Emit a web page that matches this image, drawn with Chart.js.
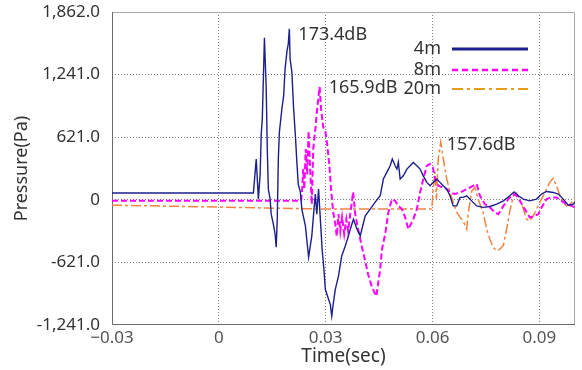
<!DOCTYPE html>
<html>
<head>
<meta charset="utf-8">
<script src="https://cdn.jsdelivr.net/npm/chart.js@4.4.1/dist/chart.umd.min.js"></script>
<style>
  html, body { margin: 0; padding: 0; background: #fff; }
  #wrap { width: 582px; height: 370px; }
</style>
</head>
<body>
<div id="wrap"><canvas id="chart" width="582" height="370"></canvas></div>
<script>
// pressure traces: [time (s), pressure (Pa)]
const trace4m = [
  [-0.0300, 67], [0.0097, 67], [0.0105, 404], [0.0111, 7], [0.0116, 255], [0.0119, 652],
  [0.0122, 801], [0.0128, 1606], [0.0133, 1099], [0.0136, 503], [0.0139, 106], [0.0144, 7],
  [0.0147, -142], [0.0153, -241], [0.0158, -341], [0.0161, -470], [0.0164, -192], [0.0167, 404],
  [0.0170, 672], [0.0177, 901], [0.0182, 1033], [0.0186, 1298], [0.0191, 1467], [0.0195, 1546],
  [0.0198, 1695], [0.0200, 1398], [0.0205, 1268], [0.0210, 901], [0.0215, 633], [0.0219, 374],
  [0.0223, 156], [0.0229, 76], [0.0233, -92], [0.0243, -258], [0.0252, -569], [0.0261, -357],
  [0.0266, -142], [0.0271, 57], [0.0275, -142], [0.0280, 106], [0.0285, -192], [0.0290, -490],
  [0.0295, -688], [0.0299, -887], [0.0308, -986], [0.0313, -1036], [0.0317, -1152], [0.0321, -1036],
  [0.0327, -887], [0.0336, -755], [0.0345, -556], [0.0355, -457], [0.0364, -357], [0.0369, -291],
  [0.0378, -192], [0.0388, -291], [0.0397, -357], [0.0411, -159], [0.0425, -92], [0.0439, -23],
  [0.0453, 40], [0.0462, 206], [0.0472, 275], [0.0481, 338], [0.0487, 404], [0.0495, 338],
  [0.0500, 305], [0.0504, 374], [0.0509, 206], [0.0518, 238], [0.0528, 305], [0.0537, 338],
  [0.0546, 371], [0.0556, 338], [0.0565, 305], [0.0574, 238], [0.0584, 173], [0.0593, 139],
  [0.0602, 173], [0.0612, 206], [0.0621, 173], [0.0630, 139], [0.0640, 106], [0.0649, 40],
  [0.0658, -60], [0.0668, -60], [0.0677, 24], [0.0686, 24], [0.0696, 40], [0.0705, 7],
  [0.0724, -60], [0.0742, -75], [0.0761, -66], [0.0780, -43], [0.0799, -10], [0.0817, 40],
  [0.0829, 79], [0.0841, 40], [0.0855, 7], [0.0873, -10], [0.0892, 7], [0.0906, 57],
  [0.0920, 83], [0.0939, 73], [0.0953, 57], [0.0967, 7], [0.0981, -53], [0.0995, -43],
  [0.1000, -20]
];

const trace8m = [
  [-0.0300, -10], [0.0231, -10], [0.0234, 106], [0.0237, 305], [0.0240, 106], [0.0244, 503],
  [0.0248, 255], [0.0252, 682], [0.0257, 255], [0.0261, -43], [0.0265, 503], [0.0271, 702],
  [0.0276, 901], [0.0283, 1119], [0.0287, 901], [0.0293, 722], [0.0299, 682], [0.0304, 553],
  [0.0310, 354], [0.0315, 106], [0.0321, -122], [0.0327, -241], [0.0331, -360], [0.0336, -142],
  [0.0341, -311], [0.0346, -172], [0.0352, -341], [0.0358, -192], [0.0363, -311], [0.0369, -142],
  [0.0377, 76], [0.0383, -142], [0.0391, -291], [0.0400, -440], [0.0411, -609], [0.0419, -738],
  [0.0430, -867], [0.0442, -956], [0.0447, -837], [0.0453, -688], [0.0458, -490], [0.0467, -341],
  [0.0476, -122], [0.0486, 7], [0.0495, -10], [0.0504, -60], [0.0514, -92], [0.0523, -172],
  [0.0532, -291], [0.0537, -258], [0.0546, -192], [0.0556, -92], [0.0565, 73], [0.0574, 206],
  [0.0584, 338], [0.0593, 355], [0.0601, 322], [0.0607, 206], [0.0616, 139], [0.0626, 126],
  [0.0640, 106], [0.0649, 73], [0.0663, 57], [0.0677, 73], [0.0696, 106], [0.0714, 139],
  [0.0724, 156], [0.0733, 40], [0.0747, -43], [0.0761, -75], [0.0775, -125], [0.0785, -142],
  [0.0799, -60], [0.0813, 7], [0.0827, 57], [0.0836, 40], [0.0845, -10], [0.0859, -92],
  [0.0873, -175], [0.0887, -159], [0.0897, -142], [0.0906, -75], [0.0920, 7], [0.0934, 24],
  [0.0948, 24], [0.0962, -10], [0.0976, -43], [0.0990, -60], [0.1000, -75]
];

const trace20m = [
  [-0.0300, -53], [0.0000, -72], [0.0299, -92], [0.0598, -92], [0.0602, 106], [0.0607, 275],
  [0.0611, 7], [0.0616, 404], [0.0623, 573], [0.0629, 434], [0.0635, 305], [0.0640, 206],
  [0.0649, 76], [0.0658, -23], [0.0668, -125], [0.0677, -172], [0.0686, -212], [0.0696, -291],
  [0.0700, -142], [0.0710, 86], [0.0719, 123], [0.0728, 7], [0.0742, -125], [0.0752, -291],
  [0.0761, -390], [0.0770, -470], [0.0780, -506], [0.0789, -490], [0.0799, -450], [0.0808, -291],
  [0.0817, -112], [0.0827, 40], [0.0836, 67], [0.0845, 7], [0.0855, -92], [0.0864, -192],
  [0.0873, -209], [0.0883, -159], [0.0892, -92], [0.0901, -26], [0.0911, 40], [0.0920, 106],
  [0.0929, 173], [0.0939, 215], [0.0948, 139], [0.0958, 40], [0.0967, -26], [0.0976, -60],
  [0.0986, -43], [0.0995, -10], [0.1000, 7]
];

const seriesNames = ['4m', '8m', '20m'];
const peakLabels = ['173.4dB', '165.9dB', '157.6dB'];

const timeTicks = [-0.03, 0, 0.03, 0.06, 0.09];
const timeTickLabels = ['\u22120.03', '0', '0.03', '0.06', '0.09'];
const pressureTicks = [-1241, -621, 0, 621, 1241, 1862];
const pressureTickLabels = ['-1,241.0', '-621.0', '0', '621.0', '1,241.0', '1,862.0'];

const FONT = "'Noto Sans', 'DejaVu Sans', sans-serif";

const lineStyles = [
  { color: '#1c1f8e', width: 1.4, dash: [], legendColor: '#1c1f8e', legendWidth: 3, legendDash: [] },
  { color: '#ff00ff', width: 2, dash: [6, 3], legendColor: '#ff00ff', legendWidth: 2.5, legendDash: [6, 4] },
  { color: '#f2843f', width: 1.5, dash: [10, 3, 3, 3], legendColor: '#e89c1c', legendWidth: 2, legendDash: [11, 4, 3, 4] }
];

// pixel nudges of the dB captions from each peak
const peakLabelOffsets = [[9, 6], [9, 1], [6, 3]];

const traces = [trace4m, trace8m, trace20m];

const datasets = traces.map((trace, i) => ({
  label: seriesNames[i],
  data: trace.map(([t, p]) => ({ x: t, y: p })),
  borderColor: lineStyles[i].color,
  borderWidth: lineStyles[i].width,
  borderDash: lineStyles[i].dash,
  pointRadius: 0,
  tension: 0,
  fill: false
}));

const edgeTransparent = (edges) => (ctx) =>
  edges.includes(ctx.tick && ctx.tick.value) ? 'rgba(0,0,0,0)' : '#808080';

const framePlugin = {
  id: 'plotFrame',
  beforeDatasetsDraw(chart) {
    const { ctx, chartArea: a } = chart;
    ctx.save();
    ctx.lineWidth = 1;
    ctx.strokeStyle = '#a8a8a8';
    ctx.beginPath();
    ctx.moveTo(a.left, a.top + 0.5);
    ctx.lineTo(a.right - 0.5, a.top + 0.5);
    ctx.lineTo(a.right - 0.5, a.bottom);
    ctx.stroke();
    ctx.strokeStyle = '#6a6a6a';
    ctx.beginPath();
    ctx.moveTo(a.left + 0.5, a.top);
    ctx.lineTo(a.left + 0.5, a.bottom - 0.5);
    ctx.lineTo(a.right, a.bottom - 0.5);
    ctx.stroke();
    ctx.restore();
  }
};

const captionPlugin = {
  id: 'peakCaptions',
  afterDatasetsDraw(chart) {
    const { ctx, scales: { x, y } } = chart;
    ctx.save();
    ctx.font = `18px ${FONT}`;
    ctx.fillStyle = '#333';
    ctx.textAlign = 'left';
    ctx.textBaseline = 'middle';
    traces.forEach((trace, i) => {
      const peak = trace.reduce((m, d) => (d[1] > m[1] ? d : m));
      const px = x.getPixelForValue(peak[0]) + peakLabelOffsets[i][0];
      const py = y.getPixelForValue(peak[1]) + peakLabelOffsets[i][1];
      ctx.fillText(peakLabels[i], px, py);
    });
    ctx.restore();
  }
};

const legendPlugin = {
  id: 'insetLegend',
  afterDraw(chart) {
    const { ctx, chartArea: a } = chart;
    const x2 = a.right - 47;
    const x1 = x2 - 76;
    const rows = [a.top + 37, a.top + 58, a.top + 77];
    ctx.save();
    ctx.font = `18px ${FONT}`;
    ctx.fillStyle = '#333';
    ctx.textAlign = 'right';
    ctx.textBaseline = 'middle';
    seriesNames.forEach((name, i) => {
      const s = lineStyles[i];
      ctx.fillText(name, x1 - 11, rows[i]);
      ctx.beginPath();
      ctx.setLineDash(s.legendDash);
      ctx.lineWidth = s.legendWidth;
      ctx.strokeStyle = s.legendColor;
      ctx.moveTo(x1, rows[i]);
      ctx.lineTo(x2, rows[i]);
      ctx.stroke();
    });
    ctx.restore();
  }
};

new Chart(document.getElementById('chart'), {
  type: 'line',
  data: { datasets },
  options: {
    responsive: false,
    animation: false,
    layout: { padding: { left: 0, top: 12, right: 7, bottom: 0 } },
    plugins: { legend: { display: false }, tooltip: { enabled: false } },
    scales: {
      x: {
        type: 'linear',
        min: -0.03,
        max: 0.1,
        afterBuildTicks: (axis) => { axis.ticks = timeTicks.map(v => ({ value: v })); },
        afterFit: (axis) => { axis.height = 45; },
        ticks: {
          callback: (v, i) => timeTickLabels[i],
          font: { family: FONT, size: 17 },
          color: '#555',
          padding: 3,
          maxRotation: 0
        },
        grid: { color: edgeTransparent([-0.03]), drawTicks: false, lineWidth: 1 },
        border: { display: false, dash: [1, 2] },
        title: {
          display: true,
          text: 'Time(sec)',
          font: { family: FONT, size: 19 },
          color: '#333',
          padding: { top: 0, bottom: 2 }
        }
      },
      y: {
        type: 'linear',
        min: -1241,
        max: 1862,
        afterBuildTicks: (axis) => { axis.ticks = pressureTicks.map(v => ({ value: v })); },
        afterFit: (axis) => {
          axis.width = 112;
          // the top label may overhang the plot; don't reserve room for it
          axis.paddingTop = 0;
          axis.paddingBottom = 0;
        },
        ticks: {
          callback: (v, i) => pressureTickLabels[i],
          font: { family: FONT, size: 17 },
          color: '#333',
          padding: 12
        },
        grid: { color: edgeTransparent([-1241, 1862]), drawTicks: false, lineWidth: 1 },
        border: { display: false, dash: [1, 2] },
        title: {
          display: true,
          text: 'Pressure(Pa)',
          font: { family: FONT, size: 18 },
          color: '#333',
          padding: { top: 11, bottom: 0 }
        }
      }
    }
  },
  plugins: [framePlugin, captionPlugin, legendPlugin]
});
</script>
</body>
</html>
